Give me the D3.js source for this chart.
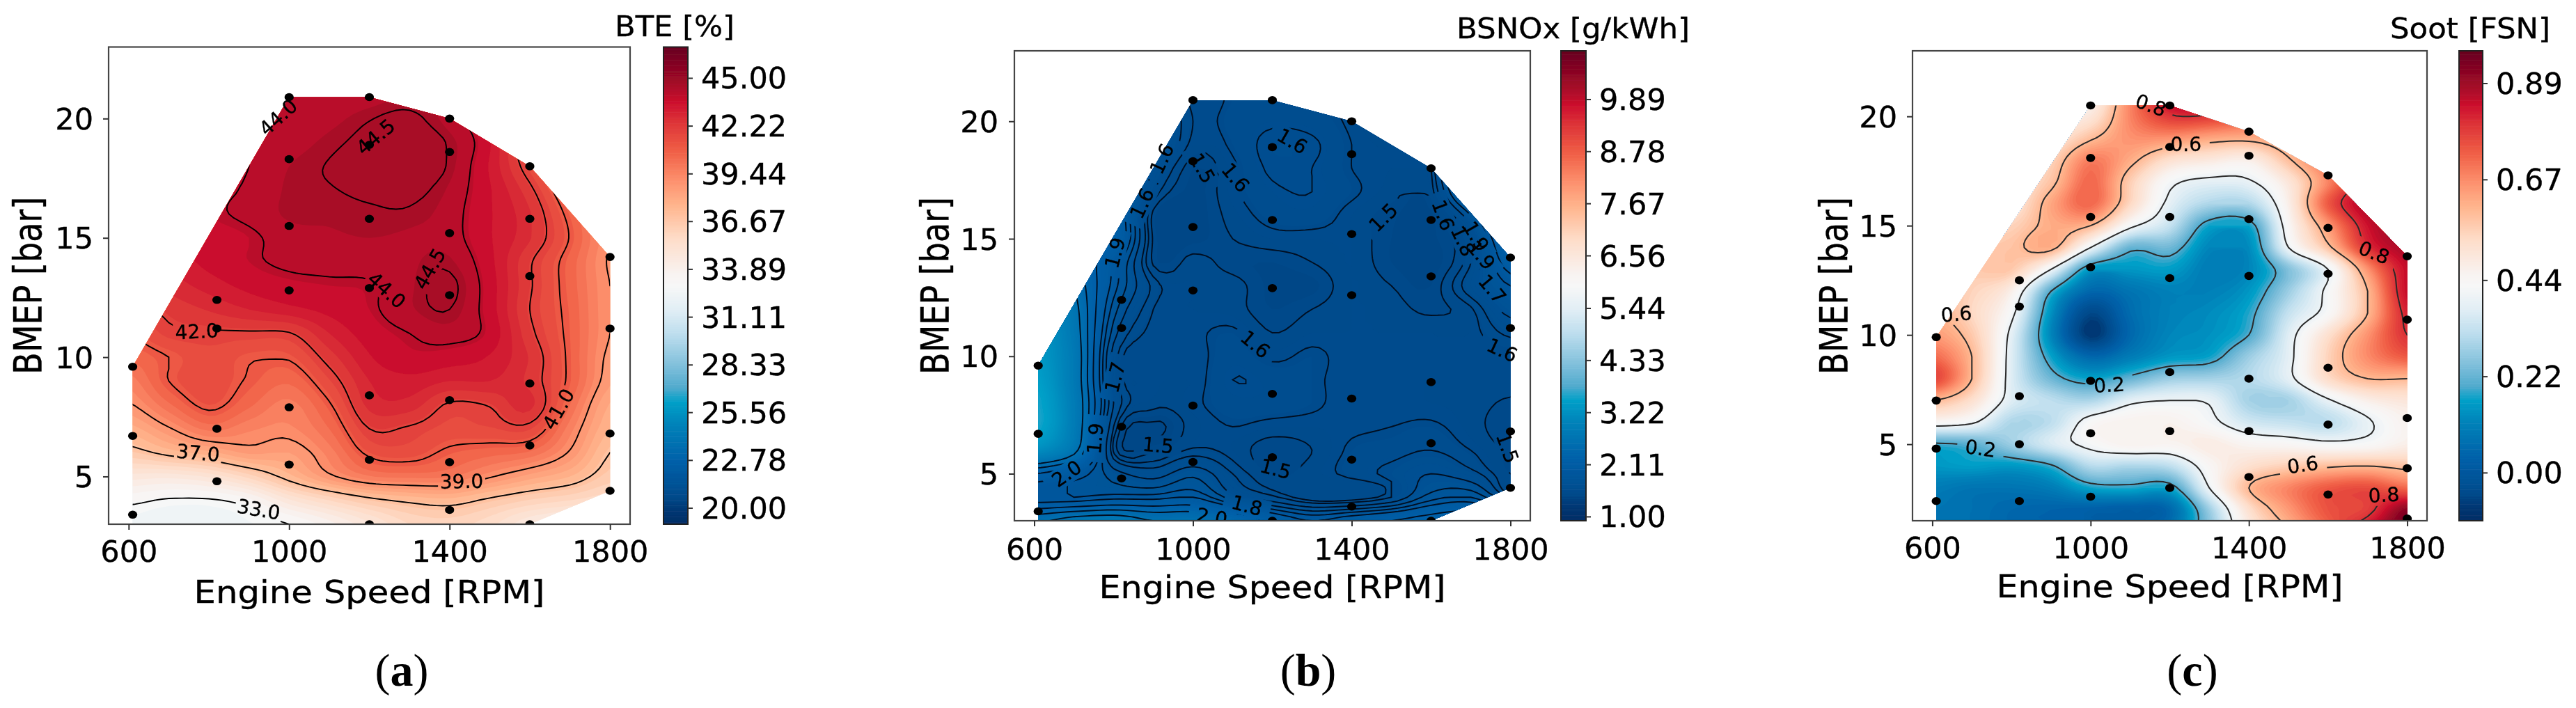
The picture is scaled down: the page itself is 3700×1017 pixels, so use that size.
<!DOCTYPE html>
<html><head><meta charset="utf-8">
<script src="https://cdn.jsdelivr.net/npm/d3@7"></script>
<style>html,body{margin:0;background:#fff}svg{display:block}text{font-family:"DejaVu Sans";fill:#000;stroke:#000;stroke-width:.35px}</style>
</head><body><svg id="c" width="3700" height="1017"></svg>
<script>
// ---- data ----
const rpmColumns = [600,700,800,900,1000,1100,1200,1300,1400,1500,1600,1700,1800];
const xTicks = [600,1000,1400,1800];
const yTicks = [5,10,15,20];

const bteRows = [3,4,5,6,7,8,9,10,11,12,13,14,15,16,17,18,19,20,21];
const bteGrid = [
[32.5,32.2,32.3,32.6,33.0,33.8,34.8,35.8,36.0,35.5,34.5,34.0,34.0],
[33.2,32.9,32.9,33.4,34.8,35.8,36.7,37.2,37.4,36.8,36.2,35.8,35.4],
[34.7,34.6,35.0,36.0,37.4,38.8,39.8,40.0,39.9,39.1,38.3,37.6,36.5],
[36.6,37.3,37.9,38.6,38.5,39.6,41.2,41.4,40.8,40.5,40.2,38.9,37.0],
[37.8,38.9,40.0,39.5,39.3,40.3,42.0,41.9,41.5,41.6,41.7,39.6,37.6],
[38.9,40.2,41.2,40.4,39.7,40.9,42.7,42.8,41.9,42.05,42.7,40.3,38.0],
[39.6,41.0,41.5,40.9,40.4,41.6,43.0,43.3,43.0,43.0,42.4,40.8,38.6],
[40.4,41.0,41.5,41.1,41.1,42.3,43.4,43.8,43.7,43.4,42.5,40.8,38.8],
[41.0,41.8,41.9,41.9,41.95,43.0,43.7,44.0,44.2,43.8,42.2,40.75,39.0],
[41.6,42.2,42.6,43.0,43.3,43.6,43.9,44.3,44.5,43.7,42.0,40.7,39.0],
[42.0,42.7,43.2,43.6,43.8,43.9,43.95,44.3,44.6,43.7,42.1,40.6,39.0],
[42.5,43.1,43.6,43.9,44.1,44.15,44.2,44.3,44.4,43.6,42.1,40.6,38.9],
[42.8,43.4,43.7,43.9,44.2,44.3,44.35,44.3,44.2,43.5,42.6,40.95,39.0],
[43.0,43.6,43.9,44.1,44.4,44.4,44.45,44.45,44.2,43.5,42.6,40.7,38.8],
[43.0,43.6,43.9,44.05,44.4,44.48,44.56,44.6,44.3,43.5,42.2,40.0,38.0],
[43.0,43.6,43.9,44.0,44.35,44.52,44.65,44.7,44.45,43.4,41.5,39.0,37.0],
[43.0,43.6,43.9,44.0,44.2,44.42,44.6,44.68,44.45,43.5,41.0,38.0,36.0],
[43.0,43.6,43.9,44.0,44.1,44.25,44.48,44.58,44.2,43.3,41.0,38.0,36.0],
[43.0,43.6,43.9,43.9,44.0,44.05,44.2,44.35,44.1,43.0,41.0,38.0,36.0]];
const bteLevels = [33,37,39,41,42,44,44.5];
const bteLabels = [["42.0",770,11.07,-3],["37.0",773,5.98,5],["33.0",924,3.61,10],["39.0",1430,4.79,-1],["41.0",1672,7.82,-60],["44.0",1243,12.8,42],["44.5",1351,13.7,-60],["44.5",1216,19.23,-40],["44.0",973,20.05,-42]];
const bteTicks = [20,22.78,25.56,28.33,31.11,33.89,36.67,39.44,42.22,45];
const bteRange = [19.05,46.8];
const mapPointsAB = [[610,9.6],[610,6.7],[610,3.4],[610,2.4],[820,12.4],[820,11.2],[820,7.0],[820,4.8],[1000,20.9],[1000,18.3],[1000,15.5],[1000,12.8],[1000,7.9],[1000,5.5],[1200,20.9],[1200,18.9],[1200,15.8],[1200,12.9],[1200,8.4],[1200,5.7],[1200,3.0],[1400,20],[1400,18.6],[1400,15.2],[1400,12.6],[1400,8.2],[1400,5.6],[1400,3.6],[1600,18],[1600,15.8],[1600,13.4],[1600,8.9],[1600,6.3],[1600,3.0],[1800,14.2],[1800,11.2],[1800,6.8],[1800,4.4]];

const noxRows = bteRows;
const noxGrid = [
[2.55,2.7,2.75,2.6,2.6,2.4,2.15,2.0,2.1,2.2,2.3,2.4,2.5],
[1.9,1.9,1.95,1.95,2.0,1.75,1.62,1.5,1.5,1.6,1.85,1.9,1.6],
[2.2,2.0,1.75,1.65,1.77,1.6,1.5,1.52,1.57,1.62,1.7,1.63,1.5],
[3.2,2.7,1.54,1.49,1.56,1.53,1.47,1.5,1.56,1.575,1.6,1.55,1.49],
[3.6,2.85,1.6,1.44,1.52,1.55,1.53,1.53,1.54,1.55,1.56,1.52,1.47],
[3.6,2.85,1.7,1.52,1.54,1.58,1.58,1.56,1.53,1.53,1.53,1.52,1.49],
[3.5,2.8,1.65,1.54,1.53,1.6,1.58,1.56,1.53,1.53,1.53,1.53,1.53],
[3.4,2.8,1.65,1.53,1.53,1.58,1.54,1.56,1.53,1.53,1.53,1.53,1.54],
[3.4,2.75,1.75,1.53,1.54,1.56,1.5,1.53,1.53,1.53,1.53,1.53,1.62],
[3.4,2.7,1.85,1.55,1.53,1.52,1.47,1.5,1.53,1.52,1.49,1.54,1.75],
[3.3,2.6,1.95,1.58,1.53,1.52,1.46,1.46,1.53,1.5,1.47,1.65,1.9],
[3.2,2.5,2.0,1.49,1.52,1.48,1.47,1.5,1.53,1.47,1.45,1.6,2.1],
[3.0,2.4,2.2,1.49,1.46,1.5,1.53,1.53,1.53,1.47,1.46,1.62,2.3],
[3.0,2.4,2.2,1.48,1.45,1.52,1.57,1.58,1.53,1.48,1.46,1.8,2.6],
[3.0,2.4,2.2,1.6,1.46,1.54,1.59,1.6,1.56,1.52,1.52,2.2,2.8],
[3.0,2.4,2.2,1.7,1.47,1.54,1.61,1.6,1.55,1.53,1.55,2.4,2.8],
[3.0,2.4,2.2,1.8,1.53,1.56,1.62,1.61,1.55,1.53,1.6,2.4,2.8],
[3.0,2.4,2.2,1.8,1.55,1.57,1.59,1.58,1.54,1.5,1.6,2.4,2.8],
[3.0,2.4,2.2,1.8,1.53,1.56,1.57,1.56,1.53,1.5,1.6,2.4,2.8]];
const noxLevels = [1.45,1.5,1.55,1.6,1.7,1.8,1.9,2.0,2.2,2.4,2.6];
const noxLabels = [["2.0",682,5.0,-35],["1.9",754,6.5,-85],["1.7",804,9.1,-75],["1.5",912,6.2,5],["1.6",1157,10.5,40],["1.5",1208,5.2,15],["1.8",1136,3.64,15],["2.0",1048,3.15,10],["1.6",1779,10.25,25],["1.5",1792,6.1,70],["1.6",922,18.4,-65],["1.5",1023,18,60],["1.6",1107,17.6,50],["1.6",1250,19.15,30],["1.5",1480,15.9,-45],["1.6",872,16.5,-65],["1.9",804,14.4,-75],["1.6",1630,16,70],["1.8",1680,14.9,65],["1.9",1713,15.1,60],["1.9",1726,14.3,50],["1.7",1754,12.85,50]];
const noxTicks = [1,2.11,3.22,4.33,5.44,6.56,7.67,8.78,9.89];
const noxRange = [0.91,10.92];

const sootRows = [1,2,3,4,5,6,7,8,9,10,11,12,13,14,15,16,17,18,19,20,21];
const sootGrid = [
[.08,.07,.05,.04,.03,.03,.08,.26,.48,.6,.72,.85,.95],
[.08,.07,.05,.04,.03,.02,.05,.28,.52,.65,.75,.78,.92],
[.1,.08,.08,.1,.17,.18,.17,.4,.6,.68,.74,.76,.72],
[.15,.16,.15,.19,.31,.3,.32,.44,.52,.56,.59,.6,.58],
[.19,.21,.28,.36,.42,.46,.45,.48,.45,.44,.42,.43,.47],
[.44,.41,.3,.32,.43,.46,.46,.42,.35,.33,.32,.39,.46],
[.6,.52,.37,.32,.3,.38,.4,.39,.29,.29,.39,.47,.5],
[.78,.6,.37,.23,.17,.22,.28,.29,.31,.38,.53,.6,.6],
[.72,.6,.37,.17,.05,.1,.15,.17,.28,.38,.55,.67,.74],
[.65,.57,.38,.12,-.08,.05,.12,.14,.2,.37,.52,.66,.8],
[.62,.54,.42,.14,-.05,.06,.11,.13,.18,.33,.43,.6,.82],
[.6,.55,.47,.2,.05,.08,.11,.11,.15,.28,.42,.6,.85],
[.6,.57,.57,.4,.15,.15,.16,.1,.12,.25,.4,.66,.85],
[.6,.57,.58,.62,.4,.22,.23,.12,.13,.4,.58,.8,.88],
[.55,.55,.55,.62,.6,.42,.33,.17,.17,.44,.65,.84,.9],
[.5,.5,.5,.63,.72,.54,.38,.3,.3,.47,.74,.88,.9],
[.5,.5,.5,.58,.72,.56,.42,.38,.39,.5,.68,.85,.9],
[.5,.5,.5,.55,.69,.62,.52,.49,.47,.59,.72,.85,.9],
[.5,.5,.5,.5,.59,.66,.66,.63,.62,.66,.72,.85,.9],
[.5,.5,.5,.48,.5,.68,.79,.79,.74,.72,.72,.85,.9],
[.5,.5,.5,.45,.45,.68,.88,.92,.85,.75,.75,.85,.9]];
const sootLevels = [.2,.4,.6,.8];
const sootLabels = [["0.6",661,10.95,-5],["0.2",1047,7.7,-3],["0.2",722,4.8,8],["0.6",1536,4.05,-8],["0.8",1741,2.67,-3],["0.8",1152,20.5,20],["0.6",1241,18.73,0],["0.8",1716,13.76,22]];
const sootTicks = [0,.22,.44,.67,.89];
const sootRange = [-0.11,0.964];
const mapPointsC = [[610,9.9],[610,7.0],[610,4.8],[610,2.4],[610,1.2],[820,12.5],[820,11.3],[820,7.2],[820,5],[820,2.4],[1000,20.5],[1000,18.1],[1000,15.4],[1000,13.1],[1000,7.9],[1000,5.5],[1000,2.6],[1200,20.5],[1200,18.6],[1200,15.4],[1200,12.6],[1200,8.3],[1200,5.6],[1200,3.0],[1400,19.3],[1400,18.2],[1400,15.3],[1400,12.7],[1400,8.0],[1400,5.6],[1400,3.5],[1600,17.3],[1600,14.9],[1600,12.8],[1600,8.5],[1600,5.9],[1600,2.7],[1800,13.6],[1800,10.7],[1800,6.2],[1800,3.9],[1800,1.6],[1800,1.2]];

// colour ramp
const rampStops = [0,.03,.06,.13,.209,.257,.286,.33,.40,.45,.5,.525,.6,.67,.72,.782,.846,.884,.923,1];
const rampColors = ["#052d64","#053773","#004b8c","#005fa8","#0082b9","#00a0c8","#50aacd","#7dbeda","#bedeee","#e1eef5","#f7f7f7","#f8f3f1","#fedcc8","#ffb48c","#fd916e","#f05f46","#dc3237","#cd0f2d","#a50a28","#67001f"];

// ---- layout ----
const panels = [
 {id:"a",L:156,R:905,T:67.5,B:753,yMin:3,cbL:953,cbR:988,title:"BTE [%]",titleW:172,titleEnd:1055,titleY:38,yLabX:40,yTickEnd:134,xTickY:792,xLabY:850,xLabW:504,capX:577,
  rows:bteRows,grid:bteGrid,levels:bteLevels,labels:bteLabels,ticks:bteTicks,range:bteRange,points:mapPointsAB,step:.45,lineW:1.9,lineC:"#000",fmt:".2f"},
 {id:"b",L:1457,R:2198,T:73,B:748,yMin:3,cbL:2242,cbR:2278,title:"BSNOx [g/kWh]",titleW:335,titleEnd:2427,titleY:41,yLabX:1343,yTickEnd:1434,xTickY:789,xLabY:843,xLabW:498,capX:1879,
  rows:noxRows,grid:noxGrid,levels:noxLevels,labels:noxLabels,ticks:noxTicks,range:noxRange,points:mapPointsAB,step:.03,lineW:1.9,lineC:"#021020",fmt:".2f"},
 {id:"c",L:2747,R:3486,T:73,B:748,yMin:1.5,cbL:3532,cbR:3566,title:"Soot [FSN]",titleW:230,titleEnd:3663,titleY:41,yLabX:2634,yTickEnd:2725,xTickY:787,xLabY:842,xLabW:498,capX:3149,
  rows:sootRows,grid:sootGrid,levels:sootLevels,labels:sootLabels,ticks:sootTicks,range:sootRange,points:mapPointsC,step:.01,lineW:2,lineC:"#2a2a2a",fmt:".2f"}
];
const svg = d3.select("#c");
const defs = svg.append("defs");
defs.append("filter").attr("id","soft").attr("x",0).attr("y",0).attr("width",1).attr("height",1)
  .attr("filterUnits","objectBoundingBox").append("feGaussianBlur").attr("stdDeviation",0.6);
const root = svg.append("g").attr("filter","url(#soft)");
root.append("rect").attr("width",3700).attr("height",1017).attr("fill","#fff");
const FS = 43, UP = 6;
const ramp = d3.scaleLinear().domain(rampStops).range(rampColors).interpolate(d3.interpolateRgb).clamp(true);

// smooth resampling of the read grid for drawing only (clamped bicubic)
function resample(grid,f){
  const rows=grid.length,cols=grid[0].length,w=(cols-1)*f+1,h=(rows-1)*f+1,out=new Float64Array(w*h);
  const cr=(a,b,c,d,t)=>0.5*(2*b+(c-a)*t+(2*a-5*b+4*c-d)*t*t+(3*b-a-3*c+d)*t*t*t);
  const at=(r,c)=>grid[Math.max(0,Math.min(rows-1,r))][Math.max(0,Math.min(cols-1,c))];
  for(let j=0;j<h;j++)for(let i=0;i<w;i++){
    const r=Math.floor(j/f),c=Math.floor(i/f),tr=j/f-r,tc=i/f-c,col=[];
    for(let k=-1;k<3;k++)col.push(cr(at(r+k,c-1),at(r+k,c),at(r+k,c+1),at(r+k,c+2),tc));
    let v=cr(col[0],col[1],col[2],col[3],tr);
    const n=[at(r,c),at(r,c+1),at(r+1,c),at(r+1,c+1)];
    out[i+j*w]=Math.max(d3.min(n),Math.min(d3.max(n),v));
  }
  return {w,h,values:out};
}

panels.forEach(p=>{
  const x=d3.scaleLinear().domain([550,1850]).range([p.L,p.R]);
  const y=d3.scaleLinear().domain([p.yMin,23]).range([p.B,p.T]);
  const color=d3.scaleSequential(ramp).domain(p.range);
  const g=root.append("g");
  const fine=resample(p.grid,UP);
  const r0=p.rows[0],c0=rpmColumns[0],dc=rpmColumns[1]-rpmColumns[0],dr=p.rows[1]-p.rows[0];
  const path=d3.geoPath(d3.geoTransform({point(a,b){
    this.stream.point(x(c0+(a-.5)/UP*dc),y(r0+(b-.5)/UP*dr));}}));
  const contours=d3.contours().size([fine.w,fine.h]).smooth(true);
  const hull=d3.polygonHull(p.points);
  const hullD="M"+hull.map(q=>[x(q[0]),y(q[1])].join(",")).join("L")+"Z";

  defs.append("clipPath").attr("id","frame"+p.id).append("rect").attr("x",p.L).attr("y",p.T).attr("width",p.R-p.L).attr("height",p.B-p.T);
  defs.append("clipPath").attr("id","hull"+p.id).append("path").attr("d",hullD);

  const lo=d3.min(fine.values)-p.step, hi=d3.max(fine.values);
  const fillTh=d3.range(lo,hi,p.step);
  const fg=g.append("g").attr("clip-path",`url(#frame${p.id})`).append("g").attr("clip-path",`url(#hull${p.id})`);
  fg.selectAll("path").data(fillTh.map(t=>contours.contour(fine.values,t))).join("path")
    .attr("d",path).attr("fill",d=>color(d.value+p.step/2));

  const mask=defs.append("mask").attr("id","gap"+p.id).attr("maskUnits","userSpaceOnUse").attr("x",0).attr("y",0).attr("width",3700).attr("height",1017);
  mask.append("rect").attr("width",3700).attr("height",1017).attr("fill","#fff");
  mask.selectAll("rect.g").data(p.labels).join("rect").attr("class","g")
    .attr("x",-34).attr("y",-15).attr("width",68).attr("height",30).attr("fill","#000")
    .attr("transform",d=>`translate(${x(d[1])},${y(d[2])}) rotate(${d[3]})`);

  const lg=fg.append("g").attr("mask",`url(#gap${p.id})`);
  lg.selectAll("path").data(p.levels.map(t=>contours.contour(fine.values,t))).join("path")
    .attr("d",path).attr("fill","none").attr("stroke",p.lineC).attr("stroke-width",p.lineW);

  const over=g.append("g").attr("clip-path",`url(#frame${p.id})`);
  over.selectAll("text").data(p.labels).join("text").text(d=>d[0])
    .attr("text-anchor","middle").attr("dominant-baseline","central").attr("font-size",28)
    .attr("transform",d=>`translate(${x(d[1])},${y(d[2])}) rotate(${d[3]})`);
  over.selectAll("ellipse").data(p.points).join("ellipse")
    .attr("cx",d=>x(d[0])).attr("cy",d=>y(d[1])).attr("rx",6.6).attr("ry",5.8).attr("fill","#000");

  g.append("rect").attr("x",p.L).attr("y",p.T).attr("width",p.R-p.L).attr("height",p.B-p.T)
    .attr("fill","none").attr("stroke","#444").attr("stroke-width",2.2);

  const tickStyle=(ax)=>{ax.select(".domain").remove();ax.selectAll("line").attr("stroke","#333").attr("stroke-width",2);ax.selectAll("text").attr("font-size",FS).attr("font-family","DejaVu Sans").attr("fill","#000");};
  const ax=g.append("g").attr("transform",`translate(0,${p.B})`).call(d3.axisBottom(x).tickValues(xTicks).tickSize(8).tickFormat(d3.format("d")));
  tickStyle(ax);
  ax.selectAll("text").attr("y",p.xTickY-p.B).attr("dy",null).attr("dominant-baseline","central");
  const ay=g.append("g").attr("transform",`translate(${p.L},0)`).call(d3.axisLeft(y).tickValues(yTicks).tickSize(8).tickFormat(d3.format("d")));
  tickStyle(ay);
  ay.selectAll("text").attr("x",p.yTickEnd-p.L).attr("dy",null).attr("dominant-baseline","central");

  g.append("text").text("Engine Speed [RPM]").attr("x",(p.L+p.R)/2).attr("y",p.xLabY).attr("text-anchor","middle").attr("dominant-baseline","central").attr("font-size",45)
    .attr("textLength",p.xLabW).attr("lengthAdjust","spacingAndGlyphs");
  g.append("text").text("BMEP [bar]").attr("text-anchor","middle").attr("dominant-baseline","central").attr("font-size",46)
    .attr("transform",`translate(${p.yLabX},${(p.T+p.B)/2}) rotate(-90) scale(1,1.18)`);

  // colour bar
  const cy=d3.scaleLinear().domain(p.range).range([p.B,p.T]);
  const cbSteps=d3.range(0,256);
  g.append("g").selectAll("rect").data(cbSteps).join("rect")
    .attr("x",p.cbL).attr("width",p.cbR-p.cbL)
    .attr("y",d=>cy(p.range[0]+(d+1)/256*(p.range[1]-p.range[0])))
    .attr("height",(p.B-p.T)/256+.6)
    .attr("fill",d=>color(p.range[0]+(d+.5)/256*(p.range[1]-p.range[0])));
  g.append("rect").attr("x",p.cbL).attr("y",p.T).attr("width",p.cbR-p.cbL).attr("height",p.B-p.T).attr("fill","none").attr("stroke","#222").attr("stroke-width",2);
  const ac=g.append("g").attr("transform",`translate(${p.cbR},0)`).call(d3.axisRight(cy).tickValues(p.ticks).tickSize(7).tickFormat(d3.format(p.fmt)));
  tickStyle(ac);
  ac.selectAll("text").attr("x",19).attr("dy",null).attr("dominant-baseline","central");
  g.append("text").text(p.title).attr("x",p.titleEnd-p.titleW/2).attr("y",p.titleY).attr("text-anchor","middle").attr("dominant-baseline","central").attr("font-size",40)
    .attr("textLength",p.titleW).attr("lengthAdjust","spacingAndGlyphs");

  // caption
  const cap=g.append("text").attr("x",p.capX).attr("y",985).attr("text-anchor","middle").attr("font-size",66).style("font-family","'Liberation Serif'").style("stroke","none");
  cap.append("tspan").text("(");
  cap.append("tspan").text(p.id).attr("font-weight","bold");
  cap.append("tspan").text(")");
});
</script></body></html>
